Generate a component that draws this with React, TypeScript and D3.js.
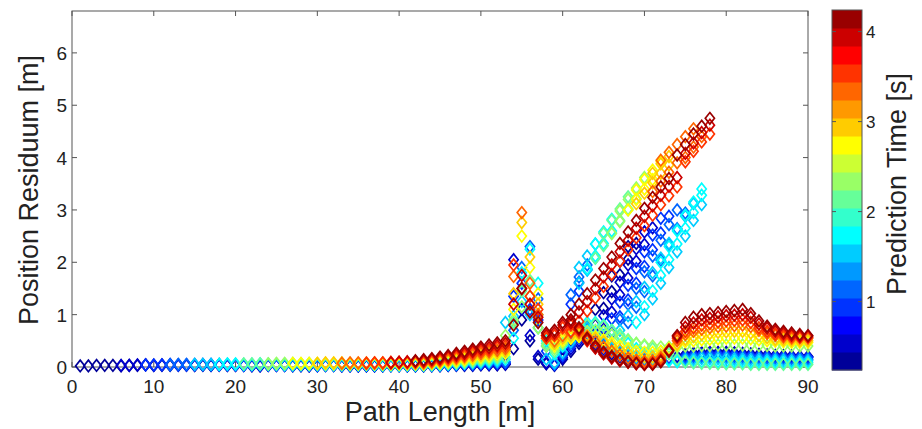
import React from "react";
import * as d3 from "d3";

// prediction horizons (s), one scatter series each
const predictionTimes = [0.3, 0.6, 0.9, 1.2, 1.5, 1.8, 2.1, 2.4, 2.7, 3.0, 3.3, 3.6, 3.9, 4.2];

// lower branch: residuum (m) per metre of path, first value at lowerStart
const lowerStart = [1, 6, 9, 12, 15, 18, 21, 24, 27, 30, 33, 36, 39, 42];
const lowerBranch = [
  [0.02, 0.02, 0.03, 0.03, 0.03, 0.02, 0.03, 0.03, 0.04, 0.03,
   0.03, 0.03, 0.04, 0.04, 0.03, 0.03, 0.03, 0.04, 0.03, 0.03,
   0.03, 0.02, 0.02, 0.03, 0.03, 0.03, 0.02, 0.02, 0.02, 0.03,
   0.03, 0.03, 0.02, 0.02, 0.02, 0.02, 0.02, 0.02, 0.02, 0.02,
   0.02, 0.02,
   0.02, 0.02, 0.02, 0.03, 0.03, 0.03, 0.03, 0.04, 0.04, 0.04, 0.05,
   0.35, 0.9, 0.5, 0.15, 0.06,
   0.03, 0.15, 0.3, 0.45, 0.55, 0.4, 0.3, 0.25, 0.2, 0.15, 0.12, 0.1, 0.1, 0.12, 0.15,
   0.2, 0.24, 0.26, 0.27, 0.28, 0.28, 0.28, 0.27, 0.26, 0.25, 0.24, 0.23, 0.22, 0.22, 0.21, 0.2, 0.2],
  [0.03, 0.03, 0.04, 0.04, 0.03, 0.04, 0.04, 0.03, 0.03, 0.03,
   0.04, 0.03, 0.03, 0.03, 0.03, 0.03, 0.03, 0.02, 0.03, 0.03,
   0.03, 0.03, 0.03, 0.02, 0.02, 0.03, 0.03, 0.02, 0.02, 0.02,
   0.02, 0.02, 0.02, 0.03, 0.03, 0.02, 0.02,
   0.02, 0.03, 0.03, 0.03, 0.04, 0.04, 0.04, 0.05, 0.05, 0.05, 0.06,
   2.05, 1.1, 0.6, 0.2, 0.08,
   0.04, 0.18, 0.35, 0.5, 0.62, 0.45, 0.35, 0.28, 0.22, 0.18, 0.14, 0.12, 0.12, 0.14, 0.17,
   0.18, 0.22, 0.24, 0.25, 0.26, 0.26, 0.26, 0.25, 0.24, 0.23, 0.22, 0.21, 0.21, 0.2, 0.2, 0.19, 0.19],
  [0.04, 0.04, 0.04, 0.05, 0.04, 0.04, 0.04, 0.04, 0.05, 0.04,
   0.04, 0.04, 0.03, 0.03, 0.04, 0.04, 0.03, 0.03, 0.03, 0.03,
   0.03, 0.03, 0.03, 0.03, 0.03, 0.03, 0.03, 0.03, 0.03, 0.03,
   0.03, 0.03, 0.03, 0.03,
   0.03, 0.03, 0.03, 0.04, 0.04, 0.05, 0.05, 0.06, 0.06, 0.07, 0.08,
   1.35, 1.6, 1.1, 0.9, 0.3,
   0.05, 0.22, 0.4, 0.55, 0.68, 0.5, 0.38, 0.3, 0.25, 0.2, 0.16, 0.14, 0.14, 0.15, 0.17,
   0.16, 0.2, 0.22, 0.23, 0.24, 0.24, 0.23, 0.23, 0.22, 0.21, 0.2, 0.2, 0.19, 0.19, 0.18, 0.18, 0.18],
  [0.04, 0.05, 0.05, 0.05, 0.05, 0.04, 0.05, 0.05, 0.04, 0.04,
   0.04, 0.04, 0.04, 0.04, 0.04, 0.03, 0.04, 0.04, 0.03, 0.03,
   0.03, 0.03, 0.04, 0.04, 0.03, 0.03, 0.03, 0.03, 0.03, 0.03,
   0.03,
   0.03, 0.03, 0.04, 0.04, 0.05, 0.06, 0.06, 0.07, 0.08, 0.09, 0.1,
   0.7, 1.9, 2.3, 1.3, 0.4,
   0.06, 0.25, 0.45, 0.6, 0.72, 0.55, 0.42, 0.33, 0.27, 0.22, 0.18, 0.16, 0.15, 0.15, 0.16,
   0.14, 0.17, 0.19, 0.2, 0.2, 0.2, 0.2, 0.19, 0.19, 0.18, 0.18, 0.17, 0.17, 0.16, 0.16, 0.16, 0.15],
  [0.05, 0.05, 0.05, 0.05, 0.05, 0.05, 0.05, 0.05, 0.05, 0.05,
   0.05, 0.04, 0.04, 0.04, 0.04, 0.04, 0.04, 0.04, 0.04, 0.04,
   0.04, 0.04, 0.04, 0.03, 0.03, 0.03, 0.03, 0.03,
   0.03, 0.04, 0.04, 0.05, 0.06, 0.07, 0.08, 0.09, 0.1, 0.11, 0.85,
   0.97, 1.25, 1.0, 0.75, 0.15,
   0.08, 0.28, 0.48, 0.65, 0.75, 0.6, 0.46, 0.36, 0.3, 0.24, 0.2, 0.18, 0.16, 0.15, 0.14,
   0.12, 0.14, 0.15, 0.16, 0.16, 0.16, 0.16, 0.15, 0.15, 0.14, 0.14, 0.13, 0.13, 0.13, 0.12, 0.12, 0.12],
  [0.05, 0.06, 0.06, 0.05, 0.05, 0.06, 0.05, 0.05, 0.05, 0.05,
   0.05, 0.05, 0.05, 0.05, 0.05, 0.04, 0.04, 0.04, 0.04, 0.04,
   0.04, 0.04, 0.04, 0.04, 0.04,
   0.04, 0.04, 0.05, 0.06, 0.07, 0.08, 0.1, 0.11, 0.12, 0.14, 0.15,
   0.55, 1.8, 2.25, 1.6, 0.5,
   0.25, 0.4, 0.6, 0.75, 0.85, 0.85, 0.8, 0.7, 0.6, 0.45, 0.35, 0.25, 0.2, 0.15, 0.12,
   0.1, 0.1, 0.1, 0.1, 0.1, 0.1, 0.1, 0.1, 0.1, 0.09, 0.09, 0.09, 0.09, 0.08, 0.08, 0.08, 0.08],
  [0.06, 0.06, 0.06, 0.06, 0.06, 0.06, 0.06, 0.06, 0.05, 0.06,
   0.05, 0.05, 0.05, 0.05, 0.05, 0.05, 0.05, 0.05, 0.05, 0.05,
   0.05, 0.05,
   0.04, 0.05, 0.06, 0.07, 0.08, 0.1, 0.11, 0.13, 0.15, 0.17, 0.19,
   0.85, 1.45, 1.65, 1.0, 0.45,
   0.3, 0.45, 0.6, 0.72, 0.8, 0.82, 0.78, 0.7, 0.62, 0.52, 0.45, 0.4, 0.35, 0.3, 0.25,
   0.15, 0.1, 0.08, 0.07, 0.07, 0.06, 0.06, 0.06, 0.06, 0.05, 0.05, 0.05, 0.05, 0.05, 0.05, 0.05, 0.05],
  [0.06, 0.07, 0.07, 0.07, 0.06, 0.07, 0.06, 0.06, 0.06, 0.06,
   0.06, 0.06, 0.06, 0.06, 0.05, 0.05, 0.05, 0.05, 0.05,
   0.05, 0.06, 0.07, 0.08, 0.1, 0.12, 0.14, 0.16, 0.18, 0.2, 0.6,
   0.9, 1.15, 1.35, 0.75, 0.4,
   0.35, 0.45, 0.55, 0.62, 0.68, 0.7, 0.68, 0.62, 0.55, 0.5, 0.45, 0.42, 0.4, 0.38, 0.38,
   0.38, 0.4, 0.4, 0.41, 0.41, 0.42, 0.42, 0.42, 0.42, 0.42, 0.41, 0.41, 0.4, 0.4, 0.4, 0.4, 0.4],
  [0.07, 0.07, 0.07, 0.07, 0.07, 0.07, 0.07, 0.06, 0.06, 0.06,
   0.06, 0.06, 0.06, 0.06, 0.06, 0.06,
   0.06, 0.07, 0.08, 0.1, 0.12, 0.14, 0.16, 0.19, 0.21, 0.24, 0.26,
   1.1, 2.5, 1.9, 1.4, 0.55,
   0.4, 0.5, 0.55, 0.58, 0.6, 0.58, 0.52, 0.46, 0.4, 0.35, 0.3, 0.28, 0.28, 0.3, 0.35,
   0.42, 0.48, 0.5, 0.52, 0.53, 0.54, 0.55, 0.55, 0.55, 0.54, 0.52, 0.5, 0.49, 0.48, 0.47, 0.47, 0.47],
  [0.07, 0.08, 0.08, 0.08, 0.07, 0.07, 0.07, 0.07, 0.07, 0.07, 0.07, 0.07, 0.07,
   0.07, 0.08, 0.1, 0.12, 0.14, 0.17, 0.19, 0.22, 0.25, 0.28, 0.31,
   1.4, 2.76, 2.1, 1.2, 0.6,
   0.45, 0.55, 0.6, 0.62, 0.6, 0.55, 0.48, 0.4, 0.33, 0.27, 0.22, 0.19, 0.19, 0.23, 0.32,
   0.44, 0.53, 0.58, 0.62, 0.64, 0.66, 0.67, 0.68, 0.68, 0.65, 0.6, 0.56, 0.53, 0.52, 0.51, 0.5, 0.5],
  [0.07, 0.08, 0.08, 0.08, 0.08, 0.08, 0.08, 0.08, 0.08, 0.08,
   0.08, 0.1, 0.12, 0.14, 0.17, 0.2, 0.23, 0.26, 0.29, 0.32, 0.35,
   1.73, 2.95, 1.6, 1.0, 0.6,
   0.5, 0.6, 0.66, 0.66, 0.58, 0.48, 0.38, 0.3, 0.23, 0.17, 0.13, 0.11, 0.12, 0.18, 0.32,
   0.5, 0.62, 0.68, 0.72, 0.75, 0.77, 0.78, 0.79, 0.8, 0.77, 0.7, 0.64, 0.6, 0.57, 0.55, 0.55, 0.55],
  [0.07, 0.08, 0.08, 0.09, 0.09, 0.09, 0.1,
   0.1, 0.12, 0.14, 0.17, 0.2, 0.23, 0.27, 0.3, 0.33, 0.37, 0.4,
   1.95, 1.5, 1.35, 1.1, 0.55,
   0.6, 0.75, 0.8, 0.7, 0.5, 0.38, 0.28, 0.2, 0.14, 0.1, 0.08, 0.07, 0.08, 0.14, 0.32,
   0.55, 0.68, 0.75, 0.8, 0.83, 0.86, 0.88, 0.89, 0.9, 0.85, 0.75, 0.68, 0.63, 0.6, 0.58, 0.57, 0.57],
  [0.08, 0.09, 0.1, 0.11,
   0.12, 0.14, 0.16, 0.19, 0.23, 0.26, 0.3, 0.34, 0.37, 0.41, 0.45,
   1.2, 1.75, 1.2, 0.95, 0.6,
   0.65, 0.8, 0.85, 0.72, 0.52, 0.36, 0.25, 0.17, 0.12, 0.09, 0.06, 0.05, 0.06, 0.12, 0.32,
   0.58, 0.76, 0.84, 0.9, 0.93, 0.96, 0.98, 0.99, 1.0, 0.95, 0.82, 0.74, 0.68, 0.64, 0.61, 0.59, 0.59],
  [0.12,
   0.14, 0.16, 0.19, 0.22, 0.26, 0.3, 0.34, 0.38, 0.42, 0.46, 0.5,
   0.8, 1.5, 1.05, 0.85, 0.65,
   0.7, 0.85, 0.9, 0.75, 0.55, 0.4, 0.28, 0.2, 0.14, 0.1, 0.07, 0.05, 0.05, 0.1, 0.3,
   0.6, 0.85, 0.95, 1.0, 1.02, 1.04, 1.06, 1.08, 1.1, 1.02, 0.88, 0.78, 0.72, 0.68, 0.65, 0.62, 0.6],
];

// open band below the rising red line (62-77 m), two interleaved rows
const openStart = [63, 64, 65, 66, 67, 69, 0, 0, 0, 0, 0, 0, 0, 0];
const openBranch = [
  [0.78, 1.1, 1.42, 1.74, 2.02, 2.3],
  [0.65, 0.98, 1.3, 1.62, 1.95, 2.26, 2.58],
  [0.6, 0.92, 1.24, 1.56, 1.88, 2.2, 2.52, 2.84],
  [0.62, 0.9, 1.2, 1.5, 1.82, 2.12, 2.42, 2.72, 3.0],
  [0.7, 0.98, 1.25, 1.52, 1.8, 2.08, 2.36, 2.62, 2.88, 3.12],
  [0.85, 1.15, 1.45, 1.75, 2.05, 2.35, 2.65, 2.95, 3.28],
  [], [], [], [], [], [], [], [],
];
const openStart2 = [64, 65, 66, 68, 70, 72, 0, 0, 0, 0, 0, 0, 0, 0];
const openBranch2 = [
  [0.8, 1.12, 1.44, 1.76, 2.06, 2.36],
  [0.72, 1.05, 1.38, 1.7, 2.02, 2.34, 2.66],
  [0.64, 0.96, 1.28, 1.6, 1.92, 2.24, 2.56, 2.88],
  [0.85, 1.14, 1.44, 1.74, 2.04, 2.34, 2.64, 2.94],
  [1.0, 1.3, 1.6, 1.9, 2.2, 2.5, 2.8, 3.1],
  [2.0, 2.3, 2.6, 2.9, 3.15, 3.4],
  [], [], [], [], [], [], [], [],
];

// upper band and rising red line up to the peak near 78 m
const upperStart = [0, 0, 61, 61, 62, 63, 64, 66, 68, 69, 71, 61, 61, 61];
const upperBranch = [
  [],
  [],
  [1.2, 1.45],
  [1.38, 1.62, 1.86],
  [1.6, 1.85, 2.08],
  [1.88, 2.12, 2.36, 2.6],
  [2.08, 2.32, 2.56, 2.8, 3.02],
  [2.55, 2.78, 3.0, 3.22],
  [3.0, 3.2, 3.4, 3.58],
  [3.12, 3.32, 3.52, 3.7, 3.86],
  [3.35, 3.55, 3.72, 3.9, 4.0, 4.2, 4.4],
  [0.68, 0.87, 1.07, 1.32, 1.54, 1.77, 2.02, 2.24, 2.47, 2.7, 2.9, 3.1, 3.27, 3.44, 3.92, 4.12, 4.3, 4.45],
  [0.85, 1.05, 1.25, 1.5, 1.72, 1.95, 2.2, 2.42, 2.65, 2.88, 3.08, 3.28, 3.45, 3.62, 4.08, 4.28, 4.48, 4.62],
  [1.0, 1.2, 1.4, 1.66, 1.88, 2.1, 2.36, 2.58, 2.8, 3.03, 3.24, 3.44, 3.6, 4.05, 4.25, 4.45, 4.6, 4.75],
];
const upperStart2 = [0, 0, 0, 62, 62, 64, 65, 67, 69, 71, 72, 0, 0, 0];
const upperBranch2 = [
  [], [], [],
  [1.72, 1.95],
  [1.9, 2.12, 2.35],
  [2.35, 2.58, 2.82],
  [2.55, 2.8, 3.02, 3.25],
  [2.98, 3.2, 3.42, 3.62],
  [3.38, 3.58, 3.76, 3.92],
  [3.7, 3.88, 4.02],
  [3.95, 4.1, 4.25, 4.4, 4.55],
  [], [], [],
];

const xTicks = [0, 10, 20, 30, 40, 50, 60, 70, 80, 90];
const yTicks = [0, 1, 2, 3, 4, 5, 6];
const colorTicks = [1, 2, 3, 4];

// MATLAB jet(20)
const jet20 = [
  "#000099", "#0000cc", "#0000ff", "#0033ff", "#0066ff", "#0099ff", "#00ccff",
  "#00ffff", "#33ffcc", "#66ff99", "#99ff66", "#ccff33", "#ffff00", "#ffcc00",
  "#ff9900", "#ff6600", "#ff3300", "#ff0000", "#cc0000", "#990000",
];

const FONT = "'Liberation Sans', Arial, Helvetica, sans-serif";
const diamond = "M0,-5.8L4.6,0L0,5.8L-4.6,0Z";

export default function App() {
  const width = 922;
  const height = 429;
  const plot = { left: 72, right: 808, top: 11, bottom: 367 };
  const bar = { left: 832, right: 862, top: 10, bottom: 370 };

  const x = d3.scaleLinear().domain([0, 90]).range([plot.left, plot.right]);
  const y = d3.scaleLinear().domain([0, 6.8]).range([plot.bottom, plot.top]);
  const cDomain: [number, number] = [0.24, 4.24];
  const cy = d3.scaleLinear().domain(cDomain).range([bar.bottom, bar.top]);
  const color = d3.scaleQuantize<string>().domain(cDomain).range(jet20);

  const points: { px: number; r: number; t: number }[] = [];
  predictionTimes.forEach((t, k) => {
    const add = (start: number, vals: number[]) =>
      vals.forEach((v, i) => points.push({ px: start + i, r: v, t }));
    add(lowerStart[k], lowerBranch[k]);
    add(openStart[k], openBranch[k]);
    add(openStart2[k], openBranch2[k]);
    add(upperStart[k], upperBranch[k]);
    add(upperStart2[k], upperBranch2[k]);
  });

  const bandStep = (cDomain[1] - cDomain[0]) / jet20.length;
  const tickLen = 5;
  const axisColor = "#555";
  const textColor = "#222";

  return (
    <svg
      width={width}
      height={height}
      style={{ position: "absolute", left: 0, top: 0, background: "#fff" }}
      fontFamily={FONT}
    >
      <rect x={0} y={0} width={width} height={height} fill="#fff" />

      {/* axes box */}
      <rect
        x={plot.left}
        y={plot.top}
        width={plot.right - plot.left}
        height={plot.bottom - plot.top}
        fill="none"
        stroke={axisColor}
        strokeWidth={1}
      />
      {xTicks.map(v => (
        <g key={"xt" + v} stroke={axisColor}>
          <line x1={x(v)} x2={x(v)} y1={plot.bottom} y2={plot.bottom - tickLen} />
          <line x1={x(v)} x2={x(v)} y1={plot.top} y2={plot.top + tickLen} />
        </g>
      ))}
      {yTicks.map(v => (
        <g key={"yt" + v} stroke={axisColor}>
          <line x1={plot.left} x2={plot.left + tickLen} y1={y(v)} y2={y(v)} />
          <line x1={plot.right} x2={plot.right - tickLen} y1={y(v)} y2={y(v)} />
        </g>
      ))}

      {/* scatter */}
      <g fill="none" strokeWidth={1.7}>
        {points.map((p, i) => (
          <path
            key={i}
            d={diamond}
            transform={`translate(${x(p.px)},${y(p.r)})`}
            stroke={color(p.t)}
          />
        ))}
      </g>

      {/* tick labels */}
      <g fontSize={19} fill={textColor}>
        {xTicks.map(v => (
          <text key={"xl" + v} x={x(v)} y={393} textAnchor="middle">
            {v}
          </text>
        ))}
        {yTicks.map(v => (
          <text key={"yl" + v} x={67} y={y(v) + 7} textAnchor="end">
            {v}
          </text>
        ))}
      </g>

      <text x={440} y={421} fontSize={27} textAnchor="middle" fill={textColor}>
        Path Length [m]
      </text>
      <text
        transform="translate(38,190) rotate(-90)"
        fontSize={27}
        textAnchor="middle"
        fill={textColor}
      >
        Position Residuum [m]
      </text>

      {/* colorbar */}
      {jet20.map((c, i) => {
        const lo = cDomain[0] + i * bandStep;
        return (
          <rect
            key={"cb" + i}
            x={bar.left}
            y={cy(lo + bandStep)}
            width={bar.right - bar.left}
            height={cy(lo) - cy(lo + bandStep) + 0.5}
            fill={c}
          />
        );
      })}
      <rect
        x={bar.left}
        y={bar.top}
        width={bar.right - bar.left}
        height={bar.bottom - bar.top}
        fill="none"
        stroke={axisColor}
        strokeWidth={1}
      />
      {colorTicks.map(v => (
        <g key={"ct" + v}>
          <line x1={bar.right} x2={bar.right - 4} y1={cy(v)} y2={cy(v)} stroke={axisColor} />
          <line x1={bar.left} x2={bar.left + 4} y1={cy(v)} y2={cy(v)} stroke={axisColor} />
          <text x={866} y={cy(v) + 6} fontSize={17} fill={textColor}>
            {v}
          </text>
        </g>
      ))}
      <text
        transform="translate(906,184) rotate(-90)"
        fontSize={27}
        textAnchor="middle"
        fill={textColor}
      >
        Prediction Time [s]
      </text>
    </svg>
  );
}
